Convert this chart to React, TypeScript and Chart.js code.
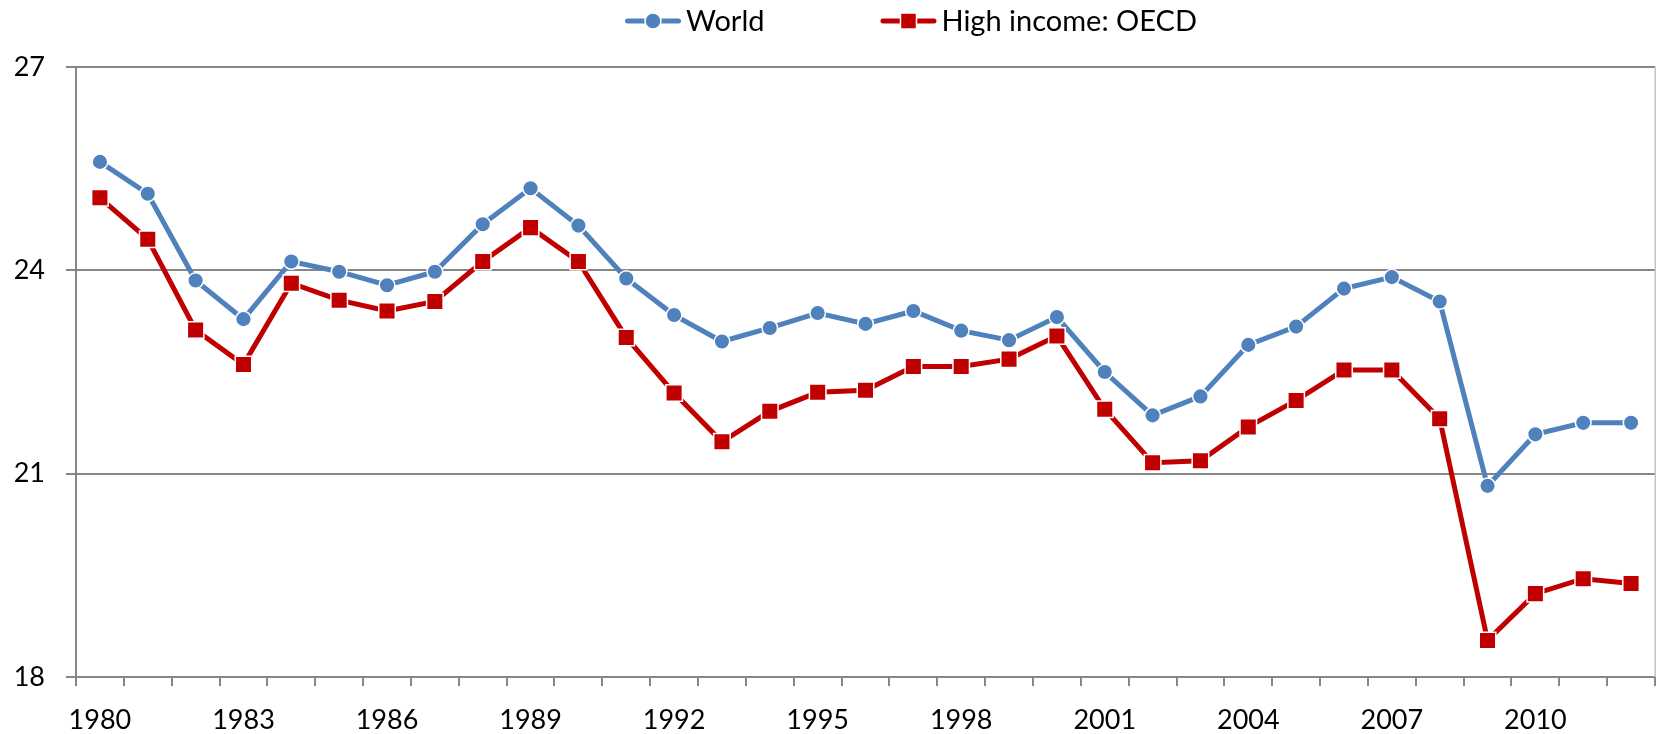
import React, { useEffect, useRef } from 'react';
import { Chart, registerables } from 'chart.js';

Chart.register(...registerables);

const years = [
  '1980', '1981', '1982', '1983', '1984', '1985', '1986', '1987', '1988', '1989',
  '1990', '1991', '1992', '1993', '1994', '1995', '1996', '1997', '1998', '1999',
  '2000', '2001', '2002', '2003', '2004', '2005', '2006', '2007', '2008', '2009',
  '2010', '2011', '2012',
];

const world = [
  25.6, 25.13, 23.85, 23.28, 24.13, 23.98, 23.78, 23.98, 24.68, 25.21,
  24.66, 23.88, 23.34, 22.95, 23.15, 23.37, 23.21, 23.4, 23.11, 22.97,
  23.31, 22.5, 21.86, 22.14, 22.9, 23.17, 23.73, 23.9, 23.54, 20.82,
  21.58, 21.75, 21.75,
];

const oecd = [
  25.07, 24.46, 23.12, 22.61, 23.81, 23.56, 23.4, 23.54, 24.13, 24.63,
  24.13, 23.01, 22.19, 21.47, 21.92, 22.2, 22.23, 22.58, 22.58, 22.69,
  23.03, 21.95, 21.16, 21.19, 21.69, 22.08, 22.53, 22.53, 21.81, 18.54,
  19.23, 19.45, 19.38,
];

const xTickLabels = ['1980', '1983', '1986', '1989', '1992', '1995', '1998', '2001', '2004', '2007', '2010'];
const yMin = 18;
const yMax = 27;
const yStep = 3;

const FONT = "Lato, 'Open Sans', 'Liberation Sans', sans-serif";
const AXIS_GRAY = '#878787';

const legendPlugin = {
  id: 'lineLegend',
  afterDraw(chart: any) {
    const ctx = chart.ctx as CanvasRenderingContext2D;
    const ds = chart.data.datasets as any[];
    ctx.save();
    ctx.font = `29px ${FONT}`;
    const lineW = 56;
    const gapText = 5;
    const gapItem = 116;
    let x = 625;
    const y = 21;
    ds.forEach((d) => {
      ctx.strokeStyle = d.borderColor;
      ctx.lineWidth = 5;
      ctx.lineCap = 'round';
      ctx.beginPath();
      ctx.moveTo(x + 2.5, y);
      ctx.lineTo(x + lineW - 2.5, y);
      ctx.stroke();
      const cx = x + lineW / 2;
      ctx.fillStyle = d.pointBackgroundColor;
      ctx.strokeStyle = '#ffffff';
      ctx.lineWidth = 1.5;
      ctx.beginPath();
      if (d.pointStyle === 'rect') {
        ctx.rect(cx - 8, y - 8, 16, 16);
      } else {
        ctx.arc(cx, y, 8, 0, Math.PI * 2);
      }
      ctx.fill();
      ctx.stroke();
      ctx.fillStyle = '#000000';
      ctx.textBaseline = 'middle';
      ctx.textAlign = 'left';
      const tx = x + lineW + gapText;
      ctx.fillText(d.label, tx, y + 1);
      x = tx + ctx.measureText(d.label).width + gapItem;
    });
    ctx.restore();
  },
};

const rightBorderPlugin = {
  id: 'rightBorder',
  afterDraw(chart: any) {
    const { ctx, chartArea } = chart;
    ctx.save();
    ctx.strokeStyle = '#c4c4c4';
    ctx.lineWidth = 1.5;
    ctx.beginPath();
    ctx.moveTo(chartArea.right + 0.25, chartArea.top);
    ctx.lineTo(chartArea.right + 0.25, chartArea.bottom);
    ctx.stroke();
    ctx.restore();
  },
};

export default function App() {
  const ref = useRef<HTMLCanvasElement | null>(null);

  useEffect(() => {
    if (!ref.current) return;
    const chart = new Chart(ref.current, {
      type: 'line',
      data: {
        labels: years,
        datasets: [
          {
            label: 'World',
            data: world,
            borderColor: '#4F81BD',
            backgroundColor: '#4F81BD',
            pointBackgroundColor: '#4F81BD',
            pointBorderColor: '#ffffff',
            pointBorderWidth: 1.5,
            pointRadius: 7.8,
            pointStyle: 'circle',
            borderWidth: 5,
            tension: 0,
            order: 1,
          },
          {
            label: 'High income: OECD',
            data: oecd,
            borderColor: '#C00000',
            backgroundColor: '#C00000',
            pointBackgroundColor: '#C00000',
            pointBorderColor: '#ffffff',
            pointBorderWidth: 1.5,
            pointRadius: 11.7,
            pointStyle: 'rect',
            borderWidth: 5,
            tension: 0,
            order: 0,
          },
        ],
      },
      options: {
        responsive: false,
        animation: false,
        layout: { autoPadding: false, padding: { top: 67, right: 1, left: 0, bottom: 0 } },
        plugins: {
          legend: { display: false },
          tooltip: { enabled: false },
        },
        scales: {
          x: {
            offset: true,
            grid: {
              offset: true,
              drawOnChartArea: false,
              drawTicks: true,
              tickLength: 9,
              color: AXIS_GRAY,
              lineWidth: 2,
            },
            border: { color: AXIS_GRAY, width: 2 },
            ticks: {
              autoSkip: false,
              maxRotation: 0,
              minRotation: 0,
              padding: 18,
              color: '#000000',
              font: { size: 27, family: FONT },
              callback: (_v: any, i: number) => (xTickLabels.includes(years[i]) ? years[i] : ''),
            },
            afterFit: (s: any) => {
              s.height = 57;
              s.paddingLeft = 0;
              s.paddingRight = 0;
            },
          },
          y: {
            min: yMin,
            max: yMax,
            ticks: {
              stepSize: yStep,
              padding: 21,
              color: '#000000',
              font: { size: 27, family: FONT },
            },
            grid: {
              color: AXIS_GRAY,
              lineWidth: 2,
              tickLength: 10,
              drawTicks: true,
            },
            border: { color: AXIS_GRAY, width: 2 },
            afterFit: (s: any) => {
              s.width = 76;
            },
          },
        },
      },
      plugins: [legendPlugin, rightBorderPlugin],
    });
    return () => chart.destroy();
  }, []);

  return (
    <div style={{ position: 'absolute', left: 0, top: 0, width: 1656, height: 734, background: '#ffffff' }}>
      <canvas ref={ref} width={1656} height={734} style={{ display: 'block' }} />
    </div>
  );
}
